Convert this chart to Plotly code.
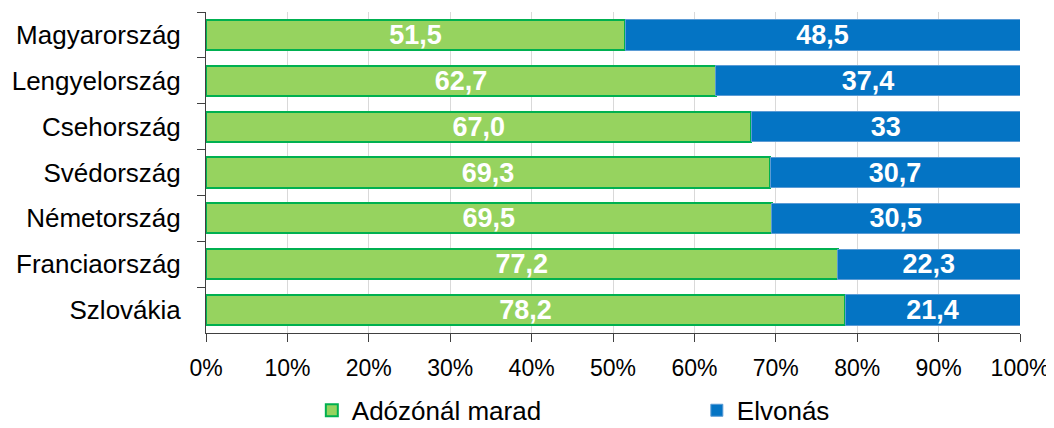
import plotly.graph_objects as go

countries = ["Magyarország", "Lengyelország", "Csehország", "Svédország",
             "Németország", "Franciaország", "Szlovákia"]
marad = [51.5, 62.7, 67.0, 69.3, 69.5, 77.2, 78.2]
elvonas = [48.5, 37.4, 33, 30.7, 30.5, 22.3, 21.4]
marad_labels = ["51,5", "62,7", "67,0", "69,3", "69,5", "77,2", "78,2"]
elvonas_labels = ["48,5", "37,4", "33", "30,7", "30,5", "22,3", "21,4"]
x_ticks = [0, 10, 20, 30, 40, 50, 60, 70, 80, 90, 100]
x_tick_labels = [f"{v}%" for v in x_ticks]

FONT = "Liberation Sans, Arial, sans-serif"

fig = go.Figure()
fig.add_trace(go.Bar(
    y=countries, x=marad, orientation="h", name="Adózónál marad",
    text=marad_labels, textposition="inside", insidetextanchor="middle",
    textangle=0, constraintext="none",
    textfont=dict(family=FONT, size=27, color="white", weight="bold"),
    marker=dict(color="#96D35F", line=dict(color="#00B050", width=2)),
    hoverinfo="skip", legend="legend",
))
fig.add_trace(go.Bar(
    y=countries, x=elvonas, orientation="h", name="Elvonás",
    text=elvonas_labels, textposition="inside", insidetextanchor="middle",
    textangle=0, constraintext="none",
    textfont=dict(family=FONT, size=27, color="white", weight="bold"),
    marker=dict(color="#0474C4", line=dict(color="#5B9BD5", width=1)),
    hoverinfo="skip", legend="legend2",
))

# note: the page body adds an 8px offset, margins compensate for it
fig.update_layout(
    width=1054, height=428,
    barmode="stack", barnorm="percent", bargap=0.34,
    margin=dict(l=198, r=42, t=4, b=103, autoexpand=False),
    plot_bgcolor="white", paper_bgcolor="white",
    font=dict(family=FONT, size=24, color="black"),
    showlegend=True,
    legend=dict(x=0.130, xanchor="left", y=-0.241, yanchor="middle",
                font=dict(size=26), itemwidth=30, bgcolor="rgba(0,0,0,0)"),
    legend2=dict(x=0.603, xanchor="left", y=-0.241, yanchor="middle",
                 font=dict(size=26), itemwidth=30, bgcolor="rgba(0,0,0,0)"),
)
fig.update_xaxes(
    range=[0, 100], tickvals=x_ticks, ticktext=x_tick_labels,
    showgrid=True, gridcolor="#D9D9D9", gridwidth=1,
    showline=True, linecolor="#404040", linewidth=1,
    ticks="outside", ticklen=8, tickcolor="#404040",
    ticklabelstandoff=6, zeroline=False, automargin=False,
    tickfont=dict(size=23),
)
fig.update_yaxes(
    autorange="reversed", showline=True, linecolor="#404040", linewidth=1,
    ticks="outside", ticklen=8, tickcolor="#404040", tickson="boundaries",
    ticklabelstandoff=19, showgrid=False, automargin=False,
    tickfont=dict(size=26),
)

fig.write_html("out.html")
